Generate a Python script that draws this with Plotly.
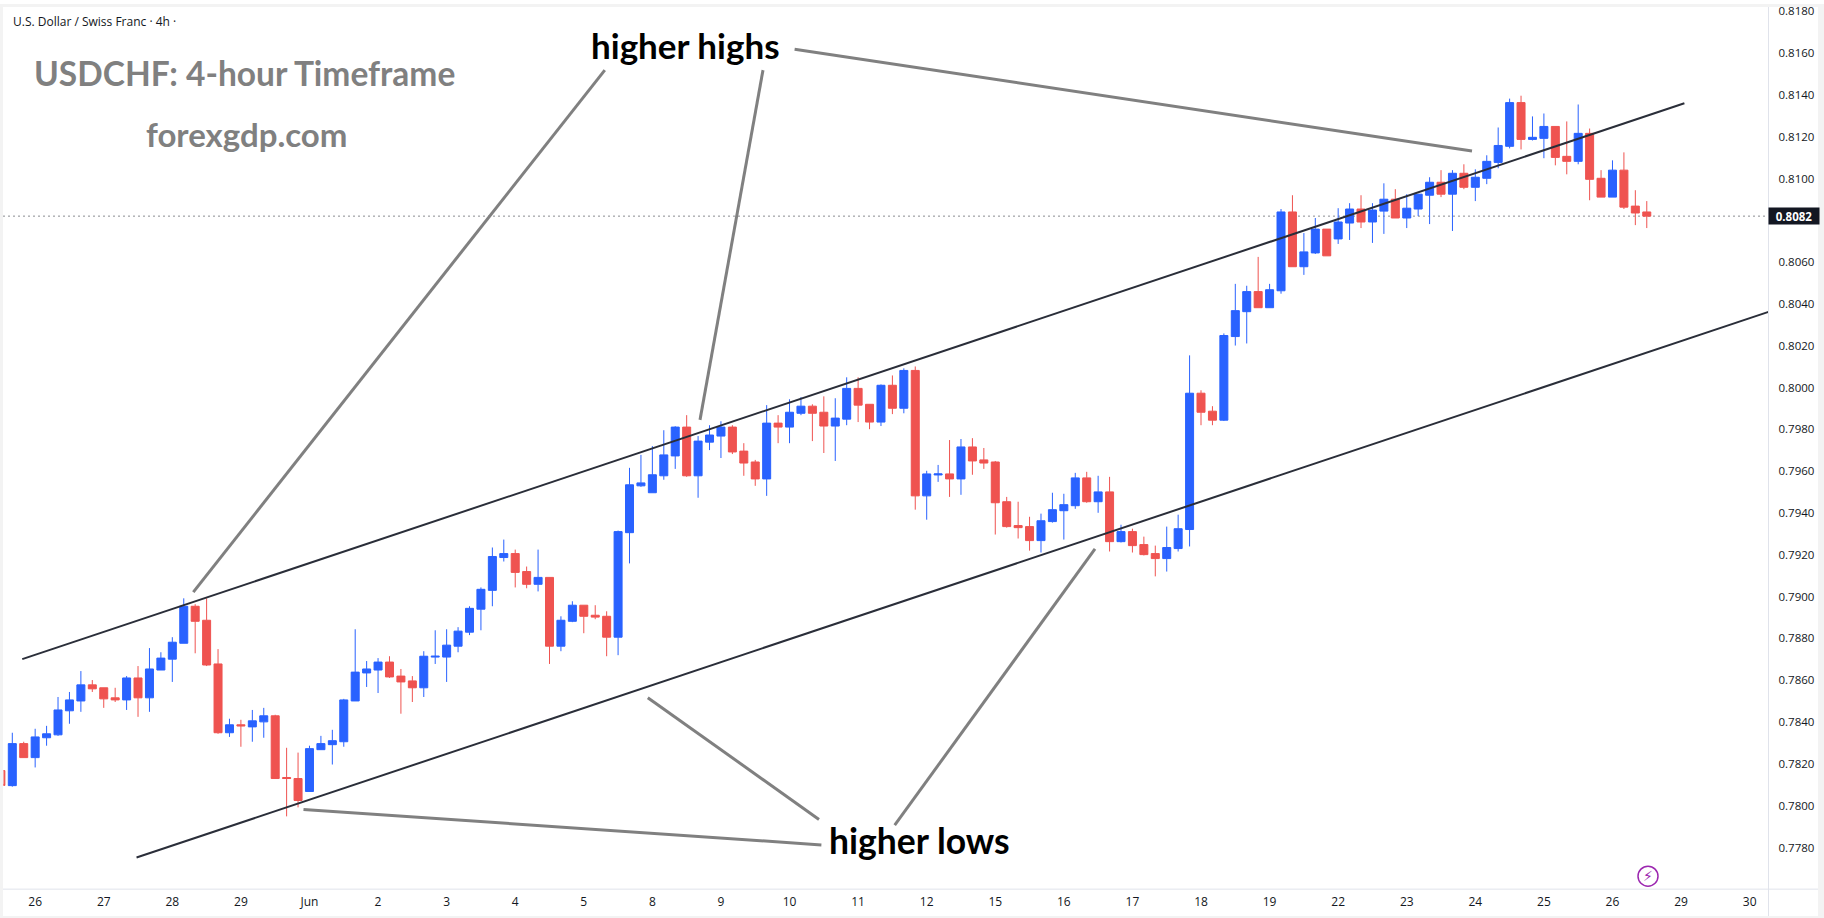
import plotly.graph_objects as go

W, H = 1824, 918

opens = [0.78168,0.78096,0.78297,0.78230,0.78325,0.78339,0.78454,0.78501,0.78578,0.78564,0.78516,
0.78506,0.78611,0.78516,0.78649,0.78701,0.78777,0.78954,0.78887,0.78678,0.78349,
0.78387,0.78377,0.78401,0.78430,0.78135,0.78130,0.78068,0.78268,0.78292,0.78306,
0.78501,0.78635,0.78649,0.78687,0.78620,0.78597,0.78564,0.78711,0.78711,0.78763,
0.78830,0.78940,0.79030,0.79187,0.79206,0.79120,0.79059,0.79092,0.78763,0.78882,
0.78959,0.78911,0.78906,0.78806,0.79306,0.79530,0.79497,0.79578,0.79673,0.79811,
0.79578,0.79739,0.79768,0.79811,0.79696,0.79644,0.79563,0.79830,0.79811,0.79877,
0.79911,0.79882,0.79816,0.79849,0.79996,0.79920,0.79835,0.80011,0.79901,0.80082,
0.79482,0.79582,0.79587,0.79563,0.79716,0.79654,0.79644,0.79454,0.79340,0.79335,
0.79268,0.79359,0.79411,0.79435,0.79568,0.79454,0.79501,0.79263,0.79311,0.79249,
0.79206,0.79182,0.79230,0.79321,0.79973,0.79887,0.79844,0.80244,0.80363,0.80459,
0.80382,0.80463,0.80840,0.80578,0.80644,0.80758,0.80711,0.80787,0.80854,0.80792,
0.80844,0.80901,0.80811,0.80854,0.80920,0.80982,0.80925,0.81025,0.80958,0.81001,
0.81077,0.81154,0.81363,0.81187,0.81192,0.81249,0.81106,0.81082,0.81216,0.81001,
0.80911,0.81040,0.80868,0.80840]

highs = [0.78216,0.78349,0.78306,0.78368,0.78382,0.78520,0.78544,0.78644,0.78601,0.78564,0.78564,
0.78620,0.78668,0.78754,0.78734,0.78806,0.78992,0.78964,0.78992,0.78749,0.78416,
0.78411,0.78458,0.78468,0.78435,0.78277,0.78254,0.78287,0.78334,0.78363,0.78511,
0.78844,0.78692,0.78706,0.78715,0.78654,0.78620,0.78739,0.78839,0.78844,0.78854,
0.78954,0.79044,0.79235,0.79273,0.79225,0.79144,0.79225,0.79092,0.78906,0.78978,
0.78959,0.78959,0.78930,0.79316,0.79616,0.79678,0.79720,0.79796,0.79815,0.79868,
0.79768,0.79820,0.79839,0.79820,0.79734,0.79654,0.79916,0.79868,0.79944,0.79954,
0.79920,0.79958,0.79949,0.80049,0.80049,0.79920,0.80015,0.80058,0.80092,0.80101,
0.79602,0.79630,0.79749,0.79754,0.79758,0.79711,0.79649,0.79477,0.79454,0.79382,
0.79397,0.79497,0.79492,0.79592,0.79597,0.79578,0.79573,0.79344,0.79325,0.79287,
0.79244,0.79335,0.79392,0.80154,0.79987,0.79911,0.80259,0.80496,0.80487,0.80625,
0.80496,0.80854,0.80920,0.80739,0.80811,0.80758,0.80858,0.80882,0.80920,0.80882,
0.80977,0.80949,0.80925,0.80925,0.81006,0.81040,0.81040,0.81068,0.81044,0.81111,
0.81244,0.81382,0.81396,0.81297,0.81311,0.81249,0.81273,0.81354,0.81239,0.81040,
0.81087,0.81125,0.80944,0.80892]

lows = [0.78087,0.78091,0.78230,0.78183,0.78287,0.78334,0.78392,0.78449,0.78544,0.78468,0.78496,
0.78458,0.78425,0.78449,0.78649,0.78592,0.78777,0.78729,0.78668,0.78344,0.78329,
0.78282,0.78306,0.78325,0.78130,0.77949,0.77992,0.78068,0.78268,0.78197,0.78282,
0.78501,0.78568,0.78539,0.78611,0.78440,0.78496,0.78520,0.78678,0.78592,0.78734,
0.78816,0.78839,0.78954,0.79168,0.79044,0.79040,0.79025,0.78678,0.78739,0.78878,
0.78825,0.78892,0.78715,0.78720,0.79159,0.79525,0.79497,0.79559,0.79611,0.79573,
0.79473,0.79701,0.79663,0.79682,0.79578,0.79530,0.79482,0.79734,0.79734,0.79868,
0.79744,0.79687,0.79649,0.79820,0.79835,0.79801,0.79816,0.79873,0.79877,0.79416,
0.79368,0.79549,0.79477,0.79487,0.79583,0.79611,0.79297,0.79330,0.79278,0.79220,
0.79211,0.79354,0.79273,0.79420,0.79449,0.79401,0.79216,0.79259,0.79211,0.79197,
0.79097,0.79120,0.79216,0.79240,0.79820,0.79820,0.79840,0.80201,0.80211,0.80382,
0.80382,0.80449,0.80578,0.80539,0.80639,0.80630,0.80687,0.80706,0.80763,0.80692,
0.80735,0.80811,0.80763,0.80820,0.80782,0.80911,0.80749,0.80949,0.80892,0.80973,
0.81049,0.81144,0.81139,0.81182,0.81097,0.81063,0.81020,0.81068,0.80896,0.80911,
0.80911,0.80854,0.80777,0.80763]

closes = [0.78097,0.78297,0.78230,0.78329,0.78344,0.78458,0.78506,0.78578,0.78559,0.78511,0.78506,
0.78611,0.78516,0.78654,0.78706,0.78782,0.78954,0.78882,0.78673,0.78349,0.78387,
0.78382,0.78406,0.78430,0.78130,0.78130,0.78025,0.78273,0.78297,0.78311,0.78506,
0.78639,0.78654,0.78687,0.78616,0.78592,0.78564,0.78715,0.78715,0.78768,0.78835,
0.78944,0.79035,0.79192,0.79206,0.79116,0.79059,0.79092,0.78763,0.78887,0.78959,
0.78906,0.78902,0.78806,0.79311,0.79535,0.79544,0.79583,0.79678,0.79811,0.79578,
0.79744,0.79773,0.79811,0.79692,0.79639,0.79563,0.79830,0.79811,0.79882,0.79911,
0.79877,0.79816,0.79854,0.79996,0.79916,0.79835,0.80011,0.79901,0.80082,0.79482,
0.79587,0.79587,0.79563,0.79716,0.79649,0.79639,0.79449,0.79335,0.79330,0.79268,
0.79363,0.79416,0.79440,0.79568,0.79454,0.79501,0.79263,0.79311,0.79244,0.79201,
0.79182,0.79235,0.79325,0.79973,0.79882,0.79844,0.80249,0.80368,0.80459,0.80382,
0.80468,0.80840,0.80578,0.80649,0.80758,0.80630,0.80792,0.80854,0.80792,0.80849,
0.80901,0.80811,0.80858,0.80925,0.80982,0.80925,0.81025,0.80958,0.81006,0.81082,
0.81158,0.81363,0.81187,0.81197,0.81249,0.81101,0.81082,0.81216,0.80996,0.80911,
0.81040,0.80863,0.80835,0.80820]

candle_index = list(range(len(opens)))

day_labels = ["26","27","28","29","Jun","2","3","4","5","8","9","10","11","12",
              "15","16","17","18","19","22","23","24","25","26","29","30"]
day_ticks = [3 + 6 * k for k in range(len(day_labels))]

price_ticks = [0.7780,0.7800,0.7820,0.7840,0.7860,0.7880,0.7900,0.7920,0.7940,0.7960,0.7980,
               0.8000,0.8020,0.8040,0.8060,0.8100,0.8120,0.8140,0.8160,0.8180]
last_price = 0.8082

upper_channel_x = [1.87, 147.29]
upper_channel_y = [0.78701, 0.81360]
lower_channel_x = [11.87, 154.65]
lower_channel_y = [0.77752, 0.80362]

# canvas-pixel end points of the grey call-out lines: (x0, y0, x1, y1)
pointers = [
    (604.8, 66.4, 193.3, 590.7),
    (763.0, 66.4, 700.0, 417.7),
    (794.6, 45.4, 1472.0, 147.7),
    (303.5, 809.0, 821.4, 844.6),
    (647.8, 696.7, 819.0, 819.0),
    (1095.0, 547.3, 894.7, 824.8),
]

BLUE = "#2962FF"
RED = "#EF5350"
INK = "#131722"
GREY = "#808080"
EDGE = "#F3F3F3"
AXIS = "#E0E3EB"
LINE = "#2A2E39"

LEFT, RIGHT, TOP, BOTTOM = 3.5, 1768.5, 3.5, 889.0

def px(x):
    return x / W

def py(y):
    return 1 - y / H

fig = go.Figure()
for xs, ys in ((upper_channel_x, upper_channel_y), (lower_channel_x, lower_channel_y)):
    fig.add_trace(go.Scatter(x=xs, y=ys, mode="lines", line=dict(color=LINE, width=2),
                             hoverinfo="skip", showlegend=False))

fig.add_trace(go.Candlestick(
    x=candle_index, open=opens, high=highs, low=lows, close=closes,
    increasing=dict(line=dict(color=BLUE, width=1), fillcolor=BLUE),
    decreasing=dict(line=dict(color=RED, width=1), fillcolor=RED),
    whiskerwidth=0, showlegend=False))

shapes = []
for (x0, y0, x1, y1) in [(0, 0, W, 3), (0, 0, 3, H), (1818, 0, W, H), (0, 916, W, H)]:
    shapes.append(dict(type="rect", xref="paper", yref="paper", x0=px(x0), x1=px(x1), y0=py(y0), y1=py(y1),
                       fillcolor=EDGE, line=dict(width=0), layer="below"))
shapes.append(dict(type="line", xref="paper", yref="paper", x0=px(RIGHT), x1=px(RIGHT), y0=py(3), y1=py(916),
                   line=dict(color=AXIS, width=1)))
shapes.append(dict(type="line", xref="paper", yref="paper", x0=px(3), x1=px(1818), y0=py(BOTTOM), y1=py(BOTTOM),
                   line=dict(color=AXIS, width=1)))
shapes.append(dict(type="line", xref="paper", yref="y", x0=px(LEFT), x1=px(RIGHT), y0=last_price, y1=last_price,
                   line=dict(color=INK, width=1, dash="1px,4px"), layer="below"))
for (x0, y0, x1, y1) in pointers:
    shapes.append(dict(type="line", xref="paper", yref="paper", x0=px(x0), y0=py(y0), x1=px(x1), y1=py(y1),
                       line=dict(color=GREY, width=3)))
shapes.append(dict(type="circle", xref="paper", yref="paper",
                   x0=px(1638), x1=px(1658), y0=py(866), y1=py(886),
                   line=dict(color="#9C27B0", width=1.5)))

def label(text, x, y, size, color, family, **kw):
    return dict(text=text, xref="paper", yref="paper", x=px(x), y=py(y), showarrow=False,
                font=dict(size=size, color=color, family=family), xanchor=kw.get("xanchor", "center"),
                yanchor="middle", align="center")

annotations = [
    label("U.S. Dollar / Swiss Franc · 4h ·", 11, 17.5, 12, INK, "Open Sans", xanchor="left"),
    label("<b>USDCHF: 4-hour Timeframe</b>", 244.5, 69.5, 33.5, GREY, "Lato"),
    label("<b>forexgdp.com</b>", 246.5, 131, 33, GREY, "Lato"),
    label("<b>higher highs</b>", 685.5, 41, 35, "#000000", "Lato"),
    label("<b>higher lows</b>", 919, 840, 35.5, "#000000", "Lato"),
    label("⚡", 1648, 876, 14, "#9C27B0", "DejaVu Sans"),
    dict(text="<b>0.8082</b>", xref="paper", yref="y", x=px(1794), y=last_price, showarrow=False,
         font=dict(size=11.5, color="#FFFFFF", family="Open Sans"), bgcolor=INK, width=50, height=16,
         xanchor="center", yanchor="middle", borderpad=0),
]

fig.update_layout(
    width=W, height=H, margin=dict(l=0, r=0, t=0, b=0), autosize=False,
    paper_bgcolor="#FFFFFF", plot_bgcolor="rgba(0,0,0,0)", showlegend=False, boxgap=0.3, boxgroupgap=0,
    shapes=shapes, annotations=annotations,
    xaxis=dict(domain=[px(LEFT), px(RIGHT)], range=[0.23, 154.65], rangeslider=dict(visible=False),
               tickmode="array", tickvals=day_ticks, ticktext=day_labels, showgrid=False, zeroline=False,
               showline=False, ticks="", ticklabelstandoff=4,
               tickfont=dict(size=12, color=INK, family="Open Sans")),
    yaxis=dict(domain=[py(BOTTOM), py(TOP)], range=[0.77601, 0.81818], side="right",
               anchor="x", tickmode="array", tickvals=price_ticks,
               ticktext=[f"{v:.4f}" for v in price_ticks], showgrid=False, zeroline=False,
               showline=False, ticks="", ticklabelstandoff=9, ticklabeloverflow="allow",
               tickfont=dict(size=11.5, color=INK, family="Open Sans")),
    font=dict(family="Open Sans"),
)

fig.write_html("out.html", config=dict(displayModeBar=False),
               post_script="document.body.style.margin='0';document.documentElement.style.overflow='hidden';")
